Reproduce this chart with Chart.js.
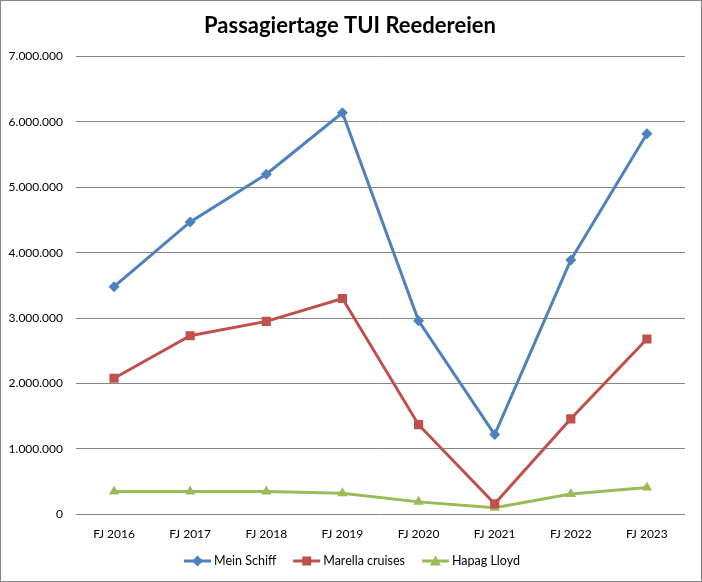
<!DOCTYPE html>
<html>
<head>
<meta charset="utf-8">
<title>Passagiertage TUI Reedereien</title>
<script src="https://cdn.jsdelivr.net/npm/chart.js@4/dist/chart.umd.min.js"></script>
<style>
  html, body { margin: 0; padding: 0; background: #fff; }
  #wrap { width: 702px; height: 582px; position: relative; }
</style>
</head>
<body>
<div id="wrap"><canvas id="chart" width="702" height="582"></canvas></div>
<script>
var chartTitle = 'Passagiertage TUI Reedereien';
var categories = ['FJ 2016', 'FJ 2017', 'FJ 2018', 'FJ 2019', 'FJ 2020', 'FJ 2021', 'FJ 2022', 'FJ 2023'];
var seriesNames = ['Mein Schiff', 'Marella cruises', 'Hapag Lloyd'];
var meinSchiff = [3480000, 4470000, 5200000, 6140000, 2960000, 1220000, 3890000, 5820000];
var marella = [2080000, 2730000, 2950000, 3300000, 1370000, 160000, 1460000, 2680000];
var hapagLloyd = [350000, 350000, 350000, 320000, 190000, 100000, 310000, 410000];
var yTicks = [0, 1000000, 2000000, 3000000, 4000000, 5000000, 6000000, 7000000];

var FONT = 'Lato, "Noto Sans", sans-serif';
var COLORS = ['#4F81BD', '#C0504D', '#9BBB59'];
var SHAPES = ['diamond', 'square', 'triangle'];

function fmt(v) {
  return String(Math.round(v)).replace(/\B(?=(\d{3})+(?!\d))/g, '.');
}

// marker shapes for the legend (Excel look: line with marker)
function drawMarker(g, shape, cx, cy) {
  g.beginPath();
  if (shape === 'diamond') {
    g.moveTo(cx, cy - 5.5); g.lineTo(cx + 5.5, cy); g.lineTo(cx, cy + 5.5); g.lineTo(cx - 5.5, cy);
  } else if (shape === 'square') {
    g.rect(cx - 4.5, cy - 4.5, 9, 9);
  } else {
    g.moveTo(cx, cy - 5.5); g.lineTo(cx + 5.5, cy + 4.5); g.lineTo(cx - 5.5, cy + 4.5);
  }
  g.closePath();
  g.fill();
}

// title, legend and frame drawn at fixed spots
var decorPlugin = {
  id: 'decor',
  afterDraw: function (chart) {
    var g = chart.ctx;
    g.save();

    g.fillStyle = '#000';
    g.textAlign = 'center';
    g.textBaseline = 'middle';
    g.font = 'bold 22px ' + FONT;
    g.fillText(chartTitle, 350, 26);

    g.font = '12.5px ' + FONT;
    g.textAlign = 'left';
    var iconW = 27, gap = 3, itemGap = 17;
    var widths = seriesNames.map(function (n) { return g.measureText(n).width; });
    var total = 0;
    widths.forEach(function (w, i) { total += iconW + gap + w + (i ? itemGap : 0); });
    var x = 352 - total / 2;
    var y = 561;
    seriesNames.forEach(function (name, i) {
      g.strokeStyle = COLORS[i];
      g.fillStyle = COLORS[i];
      g.lineWidth = 3;
      g.beginPath(); g.moveTo(x, y); g.lineTo(x + iconW, y); g.stroke();
      drawMarker(g, SHAPES[i], x + iconW / 2, y);
      g.fillStyle = '#000';
      g.fillText(name, x + iconW + gap, y);
      x += iconW + gap + widths[i] + itemGap;
    });

    g.strokeStyle = '#868686';
    g.lineWidth = 1;
    g.strokeRect(0.5, 0.5, chart.width - 1, chart.height - 1);
    g.restore();
  }
};

function series(label, data, color, pointStyle, radius) {
  return {
    label: label,
    data: data,
    borderColor: color,
    backgroundColor: color,
    borderWidth: 3,
    pointStyle: pointStyle,
    pointRadius: radius,
    pointHoverRadius: radius,
    pointBorderWidth: 0,
    pointBackgroundColor: color,
    tension: 0
  };
}

var ctx = document.getElementById('chart');
new Chart(ctx.getContext('2d'), {
  type: 'line',
  data: {
    labels: categories,
    datasets: [
      series(seriesNames[0], meinSchiff, COLORS[0], 'rectRot', 5.5),
      series(seriesNames[1], marella, COLORS[1], 'rect', 6.5),
      series(seriesNames[2], hapagLloyd, COLORS[2], 'triangle', 6)
    ]
  },
  options: {
    responsive: false,
    animation: false,
    layout: { padding: { left: 0, right: 17, top: 56.5, bottom: 0 } },
    plugins: {
      title: { display: false },
      legend: { display: false },
      tooltip: { enabled: false }
    },
    scales: {
      x: {
        offset: true,
        afterFit: function (scale) { scale.height = 67.7; },
        grid: { display: false, drawTicks: false, offset: true },
        border: { display: false },
        ticks: { color: '#000', font: { family: FONT, size: 12 }, padding: 13, maxRotation: 0 }
      },
      y: {
        min: 0,
        max: 7000000,
        afterFit: function (scale) { scale.width = 76; },
        afterBuildTicks: function (scale) {
          scale.ticks = yTicks.map(function (v) { return { value: v }; });
        },
        grid: { color: '#868686', lineWidth: 1, drawTicks: false },
        border: { display: false },
        ticks: {
          color: '#000',
          font: { family: FONT, size: 12 },
          padding: 13,
          callback: function (v) { return fmt(v); }
        }
      }
    }
  },
  plugins: [decorPlugin]
});
</script>
</body>
</html>
